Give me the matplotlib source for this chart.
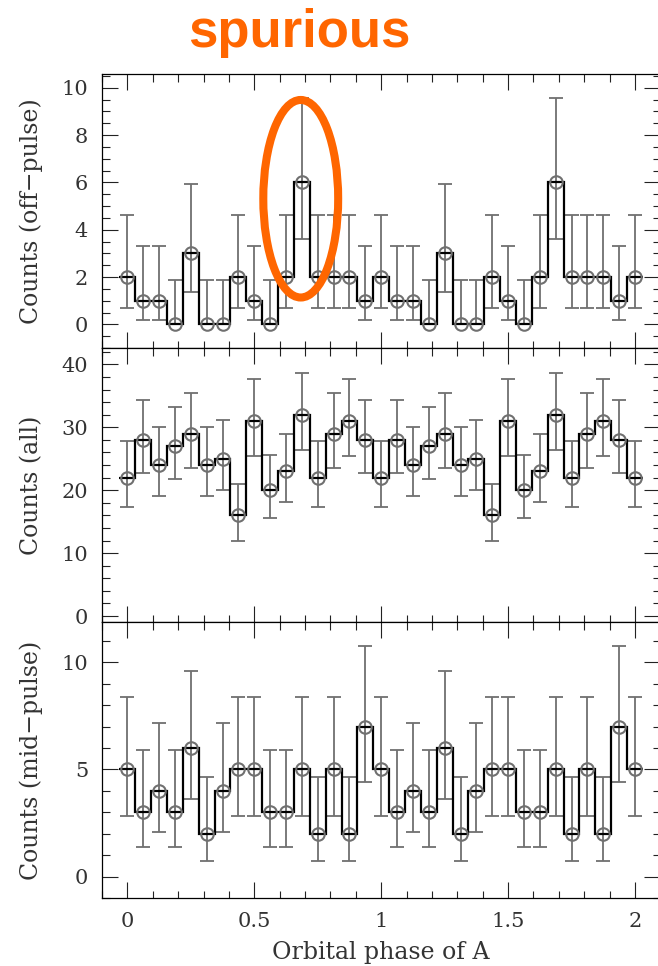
import numpy as np
import matplotlib
matplotlib.use("Agg")
import matplotlib.pyplot as plt
from matplotlib.patches import Ellipse
from matplotlib.ticker import MultipleLocator, FuncFormatter

# orbital phase bin centres (16 bins per orbit, shown twice)
phase = np.arange(33) / 16.0
bin_w = 1 / 16.0

counts_off = [2, 1, 1, 0, 3, 0, 0, 2, 1, 0, 2, 6, 2, 2, 2, 1,
              2, 1, 1, 0, 3, 0, 0, 2, 1, 0, 2, 6, 2, 2, 2, 1, 2]
counts_all = [22, 28, 24, 27, 29, 24, 25, 16, 31, 20, 23, 32, 22, 29, 31, 28,
              22, 28, 24, 27, 29, 24, 25, 16, 31, 20, 23, 32, 22, 29, 31, 28, 22]
counts_mid = [5, 3, 4, 3, 6, 2, 4, 5, 5, 3, 3, 5, 2, 5, 2, 7,
              5, 3, 4, 3, 6, 2, 4, 5, 5, 3, 3, 5, 2, 5, 2, 7, 5]

# lower / upper ends of the error bar for each count value
err_ends = {
    0: (0.0, 1.87), 1: (0.17, 3.30), 2: (0.71, 4.64), 3: (1.37, 5.92),
    4: (2.09, 7.17), 5: (2.85, 8.40), 6: (3.62, 9.58), 7: (4.42, 10.78),
    16: (12.0, 21.0), 20: (15.6, 25.6), 22: (17.3, 27.8), 23: (18.2, 28.9),
    24: (19.1, 30.0), 25: (20.0, 31.1), 27: (21.8, 33.3), 28: (22.7, 34.4),
    29: (23.6, 35.5), 31: (25.5, 37.6), 32: (26.4, 38.7),
}

ylabels = ["Counts (off\u2212pulse)", "Counts (all)", "Counts (mid\u2212pulse)"]
ylims = [(-1.0, 10.57), (-0.95, 42.6), (-1.0, 11.88)]
ymajor = [2, 10, 5]
yminor = [0.5, 2, 1]

grey = "#707070"
ink = "#333333"
orange = "#ff6600"
serif = "DejaVu Serif"

fig = plt.figure(figsize=(6.58, 9.66), dpi=100)
W, H = 658.0, 966.0
left = 102 / W
width = 558.4 / W
panels = [(74.3, 348.0), (348.0, 622.0), (622.0, 898.0)]
fmt = FuncFormatter(lambda v, p: "%g" % v)

axes = []
for i, (top, bot) in enumerate(panels):
    ax = fig.add_axes([left, (H - bot) / H, width, (bot - top) / H])
    axes.append(ax)
    vals = [counts_off, counts_all, counts_mid][i]
    lo = [v - err_ends[v][0] for v in vals]
    hi = [err_ends[v][1] - v for v in vals]
    ax.errorbar(phase, vals, yerr=[lo, hi], fmt="none", ecolor=grey,
                elinewidth=1.3, capsize=4.8, capthick=1.3, zorder=2)
    edges = np.append(phase - bin_w / 2, phase[-1] + bin_w / 2)
    ax.stairs(vals, edges, baseline=None, color="black", linewidth=1.6,
              zorder=3)
    ax.plot(phase, vals, "o", ms=9, mfc="none", mec=grey, mew=1.5, zorder=4)

    ax.set_xlim(-0.1, 2.1)
    ax.set_ylim(*ylims[i])
    ax.xaxis.set_major_locator(MultipleLocator(0.5))
    ax.xaxis.set_minor_locator(MultipleLocator(0.1))
    ax.yaxis.set_major_locator(MultipleLocator(ymajor[i]))
    ax.yaxis.set_minor_locator(MultipleLocator(yminor[i]))
    ax.xaxis.set_major_formatter(fmt)
    ax.yaxis.set_major_formatter(fmt)
    ax.tick_params(which="both", direction="in", top=True, right=True,
                   width=0.8, color="#222222", labelsize=15,
                   labelcolor=ink, pad=10,
                   labelfontfamily=serif)
    ax.tick_params(which="major", length=11.5)
    ax.tick_params(which="minor", length=5.4)
    ax.set_ylabel(ylabels[i], family=serif, fontsize=17, color=ink)
    ax.yaxis.set_label_coords(-(102 - 43) / 558.4, 0.5)
    for s in ax.spines.values():
        s.set_linewidth(0.9)
    if i < 2:
        ax.tick_params(labelbottom=False)

axes[-1].set_xlabel("Orbital phase of A", family=serif, fontsize=17,
                    color=ink, labelpad=7)

# highlight the off-pulse peak
ring = Ellipse((0.683, 5.31), 0.295, 8.35, fill=False, edgecolor=orange,
               linewidth=5.8, clip_on=False, zorder=6)
axes[0].add_patch(ring)
fig.text(299.5 / W, (H - 46.7) / H, "spurious", color=orange,
         family="Liberation Sans", weight="bold", fontsize=38,
         ha="center", va="baseline")

fig.savefig("out.png", dpi=100)
